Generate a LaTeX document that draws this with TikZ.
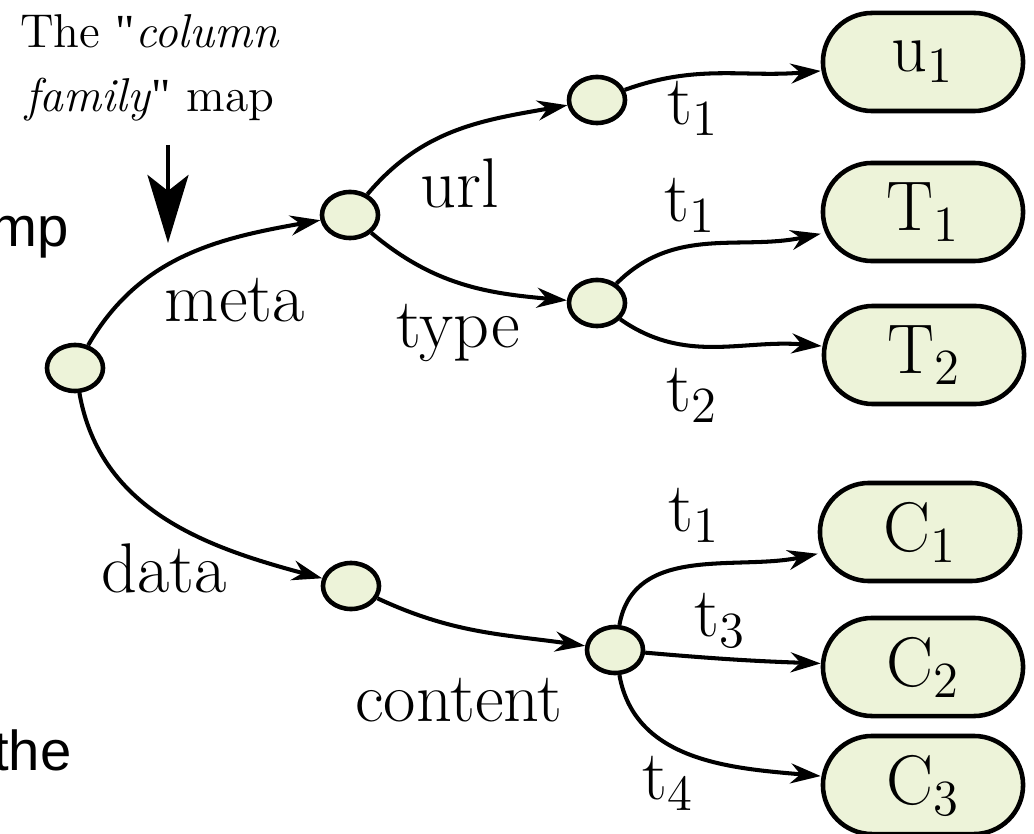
\documentclass[tikz,border=0pt]{standalone}
\usepackage{fontspec}
\newfontfamily\sansf{Liberation Sans}
\newfontfamily\quotef{Liberation Serif}[Ligatures=TeXOff]
\usetikzlibrary{shapes.geometric,arrows.meta}
\definecolor{knotfill}{RGB}{237,243,217}
\newcommand\sq{{\quotef"}}
\begin{document}
\begin{tikzpicture}[x=0.01cm, y=0.01cm,
		knot/.style={ellipse, draw, line width=1.3pt, fill=knotfill, minimum width=5.6mm, minimum height=4.6mm, inner sep=0pt},
		leaf/.style={draw, line width=1.3pt, fill=knotfill, rounded corners=4.9mm, minimum width=20mm, minimum height=9.8mm, inner sep=0pt, font=\fontsize{20}{22}\selectfont},
		edge/.style={line width=1.15pt, -{Stealth[length=3mm, width=2mm]}},
		lbl/.style={font=\fontsize{20}{22}\selectfont, inner sep=0pt}]
			\useasboundingbox (0,0) rectangle (1034,833);
			\node [font=\sansf\fontsize{16}{18}\selectfont, anchor=base east, inner sep=0pt] (mp) at (69,586) {mp};
			\node [font=\sansf\fontsize{16}{18}\selectfont, anchor=base east, inner sep=0pt] (the) at (72,63) {the};
			\node [align=center, font=\fontsize{13.5}{18}\selectfont, inner sep=0pt] (cfam) at (150,765) {The \sq\textit{column}\\\textit{family}\sq{} map};
			\coordinate (cftop) at (168,688);
			\coordinate (cftip) at (168,590);
			\draw [line width=1.2pt, -{Stealth[length=6.8mm, width=4.1mm, inset=1.6mm]}] (cftop)--(cftip);
			\node [knot] (root) at (75,465) {};
			\node [knot] (meta) at (350,618) {};
			\node [knot] (url) at (597,733) {};
			\node [knot] (type) at (597,530) {};
			\node [knot] (data) at (351,247) {};
			\node [knot] (cont) at (615,183) {};
			\node [leaf] (u1) at (923,771) {$\mathrm{u}_{1}$};
			\node [leaf] (T1) at (923,621) {$\mathrm{T}_{1}$};
			\node [leaf] (T2) at (924,478) {$\mathrm{T}_{2}$};
			\node [leaf] (C1) at (920,301) {$\mathrm{C}_{1}$};
			\node [leaf] (C2) at (923,166) {$\mathrm{C}_{2}$};
			\node [leaf] (C3) at (923,48) {$\mathrm{C}_{3}$};
			\draw [edge] (root) to[out=60, in=190] (meta);
			\draw [edge] (root) to[out=-80, in=165] (data);
			\draw [edge] (meta) to[out=50, in=190] (url);
			\draw [edge] (meta) to[out=-40, in=175] (type);
			\draw [edge] (url) to[out=20, in=185] (u1);
			\draw [edge] (type) to[out=45, in=192] (T1);
			\draw [edge] (type) to[out=-35, in=175] (T2);
			\draw [edge] (data) to[out=-25, in=172] (cont);
			\draw [edge] (cont) to[out=80, in=192] (C1);
			\draw [edge] (cont) to[out=-5, in=178] (C2);
			\draw [edge] (cont) to[out=-80, in=175] (C3);
			\node [lbl] (lmeta) at (235,533) {meta};
			\node [lbl] (ldata) at (164,265) {data};
			\node [lbl] (lurl) at (460,650) {url};
			\node [lbl] (ltype) at (458,500) {type};
			\node [lbl] (lcont) at (459,133) {content};
			\node [lbl] (lta) at (693,725) {$\mathrm{t}_{1}$};
			\node [lbl] (ltb) at (690,628) {$\mathrm{t}_{1}$};
			\node [lbl] (ltc) at (692,438) {$\mathrm{t}_{2}$};
			\node [lbl] (ltd) at (694,318) {$\mathrm{t}_{1}$};
			\node [lbl] (lte) at (720,213) {$\mathrm{t}_{3}$};
			\node [lbl] (ltf) at (668,50) {$\mathrm{t}_{4}$};
		\end{tikzpicture}
\end{document}
